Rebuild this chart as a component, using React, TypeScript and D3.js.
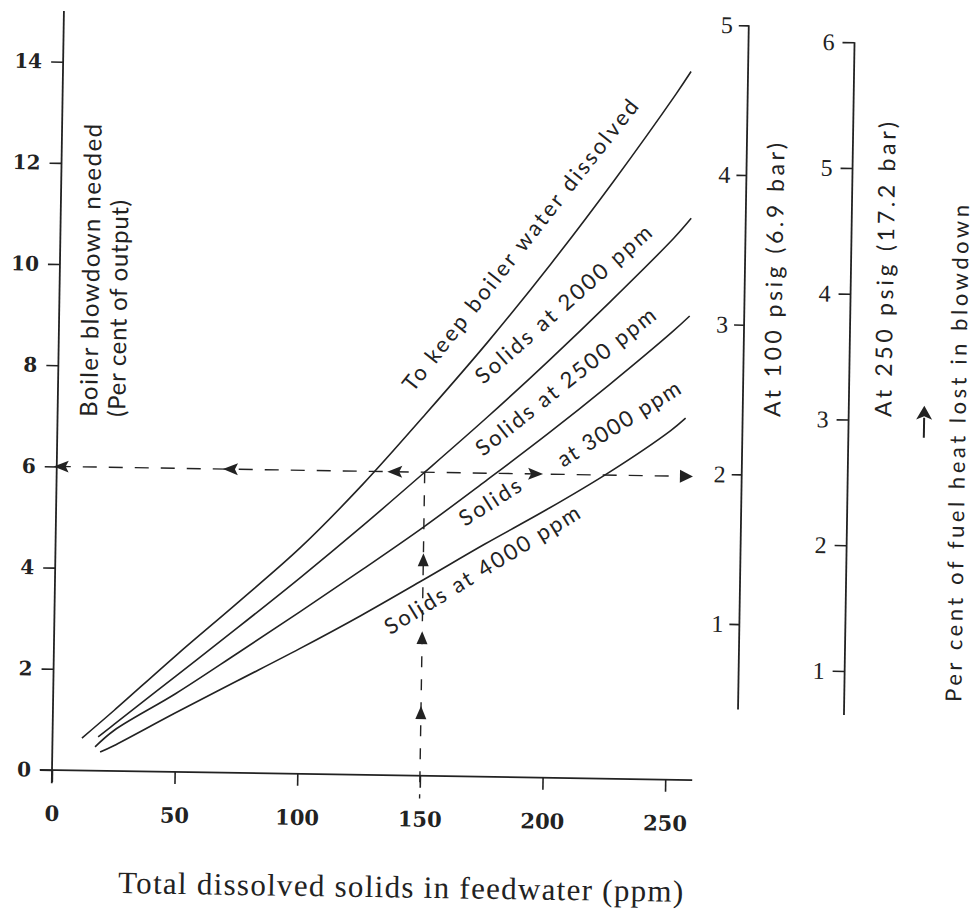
import * as d3 from "d3";
import { useEffect, useRef } from "react";

// Feedwater TDS (ppm) -> boiler blowdown needed (% of output)
const tdsTicks = [0, 50, 100, 150, 200, 250];
const blowdownTicks = [0, 2, 4, 6, 8, 10, 12, 14];
const heatLoss100Ticks = [1, 2, 3, 4, 5];
const heatLoss250Ticks = [1, 2, 3, 4, 5, 6];

const solids2000 = [[12, 0.64], [25, 1.2], [50, 2.31], [75, 3.38], [100, 4.48], [125, 5.75], [150, 7.15], [175, 8.6], [200, 10.15], [225, 11.8], [250, 13.55], [256, 14.0]];
const solids2500 = [[18.6, 0.67], [25, 0.92], [50, 1.9], [75, 2.88], [100, 3.88], [125, 4.92], [150, 6.0], [175, 7.1], [200, 8.25], [225, 9.45], [250, 10.7], [257, 11.1]];
const solids3000 = [[17.4, 0.47], [25, 0.8], [50, 1.55], [75, 2.37], [100, 3.2], [125, 4.05], [150, 4.92], [175, 5.85], [200, 6.8], [225, 7.8], [250, 8.85], [257, 9.17]];
const solids4000 = [[19.5, 0.37], [25, 0.5], [50, 1.17], [75, 1.82], [100, 2.47], [125, 3.15], [150, 3.87], [175, 4.6], [200, 5.3], [225, 6.05], [250, 6.9], [256, 7.15]];

// worked example: 150 ppm feedwater -> 6 % blowdown
const exampleTds = 150;
const exampleBlowdown = 6;
const leftArrowsTds = [2, 71, 138];
const rightArrowsTds = [195];
const upArrowsBlowdown = [1.24, 2.72, 4.26];

const ink = "#222";

const BlowdownChart = () => {
  const ref = useRef(null);

  useEffect(() => {
    if (ref && ref.current) ref.current.innerHTML = "";

    const width = 973;
    const height = 912;

    const svg = d3.select(ref.current)
        .attr("width", width)
        .attr("height", height)
        .attr("viewBox", [0, 0, width, height]);

    svg.append("rect").attr("width", width).attr("height", height).attr("fill", "#fff");

    // the scan is turned a little clockwise, so everything sits in a rotated group
    const g = svg.append("g").attr("transform", "rotate(0.9,52,770)");

    const x = d3.scaleLinear().domain([0, 250]).range([52, 665.3]);
    const y = d3.scaleLinear().domain([0, 14]).range([770, 61.6]);
    // fuel heat lost scales
    const y100 = d3.scaleLinear().domain([0, 5]).range([763, 14.5]);
    const y250 = d3.scaleLinear().domain([0, 6]).range([784.3, 29.8]);
    const x100 = 737;
    const x250 = 843;
    const fmt = d3.format("d");

    const styleAxis = (sel, family, size, weight) => {
      sel.select(".domain").remove();
      sel.selectAll("line").attr("stroke", ink).attr("stroke-width", 1.6);
      sel.selectAll("text")
          .attr("fill", ink)
          .attr("font-family", family)
          .attr("font-size", size)
          .attr("font-weight", weight);
    };

    // left axis
    g.append("line")
        .attr("x1", x(0)).attr("x2", x(0))
        .attr("y1", y(-0.26)).attr("y2", y(15))
        .attr("stroke", ink).attr("stroke-width", 1.8);
    g.append("g")
        .attr("transform", `translate(${x(0)},0)`)
        .call(d3.axisLeft(y).tickValues(blowdownTicks).tickFormat(fmt).tickSize(12).tickPadding(9))
        .call(styleAxis, "DejaVu Serif", 20, "bold");

    // bottom axis
    g.append("line")
        .attr("x1", x(-5)).attr("x2", x(261))
        .attr("y1", y(0)).attr("y2", y(0))
        .attr("stroke", ink).attr("stroke-width", 1.8);
    g.append("g")
        .attr("transform", `translate(0,${y(0)})`)
        .call(d3.axisBottom(x).tickValues(tdsTicks).tickFormat(fmt).tickSize(12).tickPadding(24))
        .call(styleAxis, "DejaVu Serif", 21, "bold");

    // right axes: per cent of fuel heat lost
    g.append("line")
        .attr("x1", x100).attr("x2", x100)
        .attr("y1", y100(0.43)).attr("y2", y100(5))
        .attr("stroke", ink).attr("stroke-width", 1.8);
    g.append("g")
        .attr("transform", `translate(${x100},0)`)
        .call(d3.axisLeft(y100).tickValues(heatLoss100Ticks).tickFormat(fmt).tickSize(10).tickPadding(6))
        .call(styleAxis, "Liberation Serif", 24, "normal");

    g.append("line")
        .attr("x1", x250).attr("x2", x250)
        .attr("y1", y250(0.65)).attr("y2", y250(6))
        .attr("stroke", ink).attr("stroke-width", 1.8);
    g.append("g")
        .attr("transform", `translate(${x250},0)`)
        .call(d3.axisLeft(y250).tickValues(heatLoss250Ticks).tickFormat(fmt).tickSize(12).tickPadding(8))
        .call(styleAxis, "Liberation Serif", 24, "normal");

    // curves
    const line = d3.line()
        .x(d => x(d[0]))
        .y(d => y(d[1]))
        .curve(d3.curveCatmullRom);

    g.selectAll(".curve")
      .data([solids2000, solids2500, solids3000, solids4000])
      .join("path")
        .attr("class", "curve")
        .attr("d", line)
        .attr("fill", "none")
        .attr("stroke", ink)
        .attr("stroke-width", 1.6);

    // worked example, dashed
    g.append("line")
        .attr("x1", x(0)).attr("x2", x(255))
        .attr("y1", y(exampleBlowdown)).attr("y2", y(exampleBlowdown))
        .attr("stroke", ink).attr("stroke-width", 1.4)
        .attr("stroke-dasharray", "14 12");
    g.append("line")
        .attr("x1", x(exampleTds)).attr("x2", x(exampleTds))
        .attr("y1", y(exampleBlowdown)).attr("y2", y(-0.45))
        .attr("stroke", ink).attr("stroke-width", 1.4)
        .attr("stroke-dasharray", "11 12");

    const barbLeft = "M-8,0L7,-6L4,0L7,6Z";
    const barbRight = "M8,0L-7,-6L-4,0L-7,6Z";
    const triUp = "M0,-7L5.5,6L-5.5,6Z";
    const triRight = "M7,0L-6,-6.5L-6,6.5Z";

    g.selectAll(".arrowL").data(leftArrowsTds).join("path")
        .attr("transform", d => `translate(${x(d)},${y(exampleBlowdown)})`)
        .attr("d", barbLeft).attr("fill", ink);
    g.selectAll(".arrowR").data(rightArrowsTds).join("path")
        .attr("transform", d => `translate(${x(d)},${y(exampleBlowdown)})`)
        .attr("d", barbRight).attr("fill", ink);
    g.append("path")
        .attr("transform", `translate(${x(256.5)},${y(exampleBlowdown)})`)
        .attr("d", triRight).attr("fill", ink);
    g.selectAll(".arrowU").data(upArrowsBlowdown).join("path")
        .attr("transform", d => `translate(${x(exampleTds)},${y(d)})`)
        .attr("d", triUp).attr("fill", ink);

    // curve labels
    const notes = [
      { text: "To keep boiler water dissolved", at: [144.7, 7.56], angle: -52.5, len: 365 },
      { text: "Solids at 2000 ppm", at: [173.3, 7.74], angle: -42.3, len: 227 },
      { text: "Solids at 2500 ppm", at: [173.7, 6.32], angle: -39.4, len: 223 },
      { text: "Solids", at: [166.8, 4.93], angle: -33.4, len: 69 },
      { text: "at 3000 ppm", at: [206.4, 6.13], angle: -33.1, len: 141 },
      { text: "Solids at 4000 ppm", at: [137, 2.77], angle: -32.5, len: 225 }
    ];
    g.selectAll(".note").data(notes).join("text")
        .attr("transform", d => `translate(${x(d.at[0])},${y(d.at[1])}) rotate(${d.angle})`)
        .attr("textLength", d => d.len)
        .attr("lengthAdjust", "spacing")
        .attr("font-family", "Lato")
        .attr("font-size", 22)
        .attr("fill", ink)
        .text(d => d.text);

    // axis titles
    const titles = [
      { text: "Boiler blowdown needed", pos: [91.5, 416.3], len: 293, size: 24 },
      { text: "(Per cent of output)", pos: [119.5, 415.9], len: 217, size: 24 },
      { text: "At 100 psig (6.9 bar)", pos: [774.5, 405.6], len: 274, size: 23 },
      { text: "At 250 psig (17.2 bar)", pos: [885.5, 403.8], len: 295, size: 23 },
      { text: "Per cent of fuel heat lost in blowdown", pos: [960, 687.7], len: 497, size: 22 }
    ];
    g.selectAll(".title").data(titles).join("text")
        .attr("transform", d => `translate(${d.pos[0]},${d.pos[1]}) rotate(-90)`)
        .attr("textLength", d => d.len)
        .attr("lengthAdjust", "spacing")
        .attr("font-family", "Lato")
        .attr("font-size", d => d.size)
        .attr("fill", ink)
        .text(d => d.text);

    // up arrow beside the right title
    g.append("line")
        .attr("x1", 918.5).attr("x2", 918.5)
        .attr("y1", 424).attr("y2", 404)
        .attr("stroke", ink).attr("stroke-width", 2);
    g.append("path")
        .attr("transform", "translate(918.5,400)")
        .attr("d", "M0,-8L8,6L0,2.5L-8,6Z")
        .attr("fill", ink);

    g.append("text")
        .attr("x", 120)
        .attr("y", 892)
        .attr("textLength", 565)
        .attr("lengthAdjust", "spacing")
        .attr("font-family", "Liberation Serif")
        .attr("font-size", 31)
        .attr("fill", ink)
        .text("Total dissolved solids in feedwater (ppm)");
  }, []);

  return <svg ref={ref} style={{ position: "absolute", left: 0, top: 0, display: "block" }} />;
};

export default function App() {
  return <BlowdownChart />;
}
